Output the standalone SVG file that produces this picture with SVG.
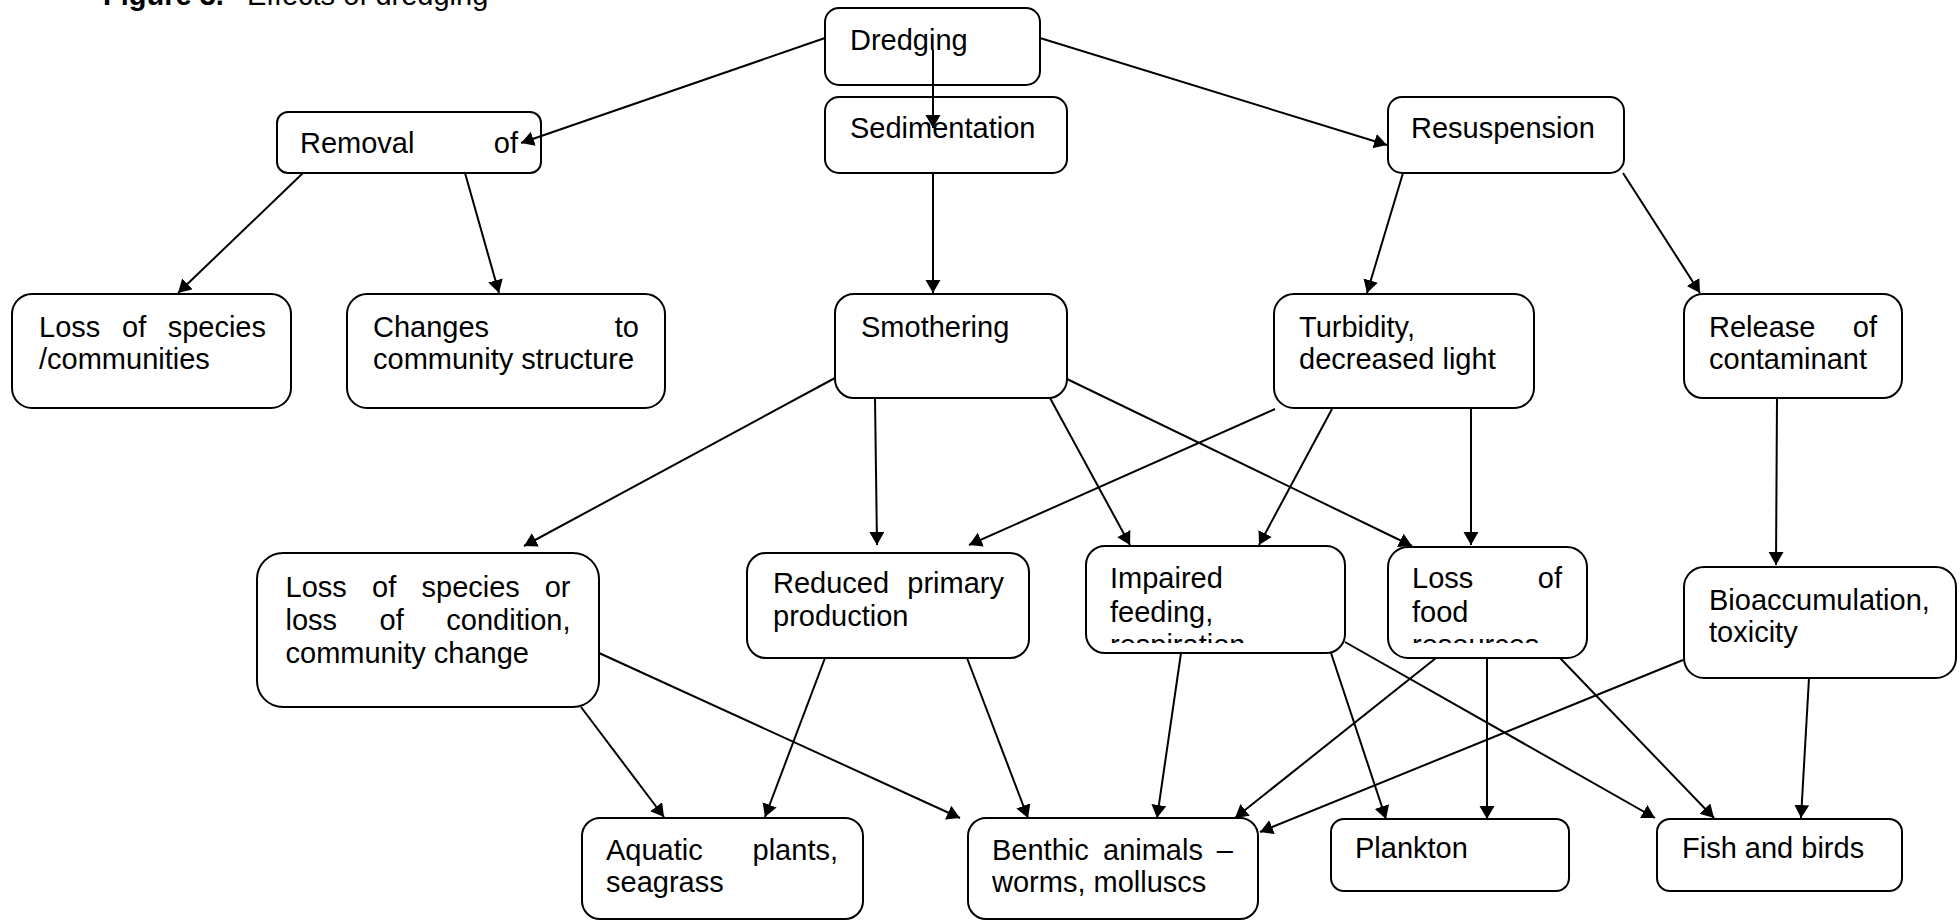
<svg xmlns="http://www.w3.org/2000/svg" width="1960" height="922" viewBox="0 0 1960 922">
<style>
.box{fill:#fff;stroke:#000;stroke-width:2}
.t{font-family:"Liberation Sans",Arial,sans-serif;font-size:29px;fill:#000}
.e{text-anchor:end}
.b{font-weight:bold}
.c line{stroke:#000;stroke-width:2;marker-end:url(#ah)}
</style>
<defs>
<marker id="ah" markerUnits="userSpaceOnUse" markerWidth="14" markerHeight="16" refX="13" refY="7.5" orient="auto">
<path d="M0,0 L13,7.5 L0,15 z" fill="#000"/>
</marker>
<clipPath id="clipImp"><rect x="1086" y="546" width="259" height="97"/></clipPath>
<clipPath id="clipFood"><rect x="1388" y="547" width="199" height="96"/></clipPath>
</defs>
<rect width="1960" height="922" fill="#fff"/>
<g id="title"><text class="t" x="103" y="5"><tspan class="b">Figure 3.</tspan><tspan x="247">Effects of dredging</tspan></text></g>

<g id="dredging"><rect class="box" x="825" y="8" width="215" height="77" rx="14"/><text class="t" x="850" y="50">Dredging</text></g>
<g id="removal"><rect class="box" x="277" y="112" width="264" height="61" rx="11"/><text class="t" x="300" y="153">Removal</text><text class="t e" x="518" y="153">of</text></g>
<g id="sedimentation"><rect class="box" x="825" y="97" width="242" height="76" rx="14"/><text class="t" x="850" y="138">Sedimentation</text></g>
<g id="resuspension"><rect class="box" x="1388" y="97" width="236" height="76" rx="14"/><text class="t" x="1411" y="138">Resuspension</text></g>

<g id="loss-species-communities"><rect class="box" x="12" y="294" width="279" height="114" rx="20"/><text class="t" x="39" y="337">Loss</text><text class="t" x="122" y="337">of</text><text class="t e" x="266" y="337">species</text><text class="t" x="39" y="369">/communities</text></g>
<g id="changes"><rect class="box" x="347" y="294" width="318" height="114" rx="20"/><text class="t" x="373" y="337">Changes</text><text class="t e" x="639" y="337">to</text><text class="t" x="373" y="369">community structure</text></g>
<g id="smothering"><rect class="box" x="835" y="294" width="232" height="104" rx="19"/><text class="t" x="861" y="337">Smothering</text></g>
<g id="turbidity"><rect class="box" x="1274" y="294" width="260" height="114" rx="20"/><text class="t" x="1299" y="337">Turbidity,</text><text class="t" x="1299" y="369">decreased light</text></g>
<g id="release"><rect class="box" x="1684" y="294" width="218" height="104" rx="19"/><text class="t" x="1709" y="337">Release</text><text class="t e" x="1877" y="337">of</text><text class="t" x="1709" y="369">contaminant</text></g>

<g id="loss-species-condition"><rect class="box" x="257" y="553" width="342" height="154" rx="26"/><text class="t" x="285.5" y="597">Loss</text><text class="t" x="372" y="597">of</text><text class="t" x="421.5" y="597">species</text><text class="t e" x="570.5" y="597">or</text><text class="t" x="285.5" y="630">loss</text><text class="t" x="379.5" y="630">of</text><text class="t e" x="570.5" y="630">condition,</text><text class="t" x="285.5" y="663">community change</text></g>
<g id="reduced"><rect class="box" x="747" y="553" width="282" height="105" rx="19"/><text class="t" x="773" y="593">Reduced</text><text class="t e" x="1004" y="593">primary</text><text class="t" x="773" y="626">production</text></g>
<g id="impaired"><rect class="box" x="1086" y="546" width="259" height="107" rx="19"/><text class="t" x="1110" y="588">Impaired</text><text class="t" x="1110" y="622">feeding,</text><text class="t" x="1110" y="655" clip-path="url(#clipImp)">respiration</text></g>
<g id="loss-food"><rect class="box" x="1388" y="547" width="199" height="111" rx="20"/><text class="t" x="1412" y="588">Loss</text><text class="t e" x="1562" y="588">of</text><text class="t" x="1412" y="622">food</text><text class="t" x="1412" y="655" clip-path="url(#clipFood)">resources</text></g>
<g id="bioaccumulation"><rect class="box" x="1684" y="567" width="272" height="111" rx="20"/><text class="t" x="1709" y="610">Bioaccumulation,</text><text class="t" x="1709" y="642">toxicity</text></g>

<g id="aquatic"><rect class="box" x="582" y="818" width="281" height="101" rx="18"/><text class="t" x="606" y="860">Aquatic</text><text class="t e" x="838" y="860">plants,</text><text class="t" x="606" y="892">seagrass</text></g>
<g id="benthic"><rect class="box" x="968" y="818" width="290" height="101" rx="18"/><text class="t" x="992" y="860">Benthic</text><text class="t" x="1103" y="860">animals</text><text class="t e" x="1233" y="860">–</text><text class="t" x="992" y="892">worms, molluscs</text></g>
<g id="plankton"><rect class="box" x="1331" y="819" width="238" height="72" rx="13"/><text class="t" x="1355" y="858">Plankton</text></g>
<g id="fish"><rect class="box" x="1657" y="819" width="245" height="72" rx="13"/><text class="t" x="1682" y="858">Fish and birds</text></g>

<g id="connectors" class="c">
<line x1="825" y1="38" x2="521" y2="143"/>
<line x1="933" y1="50" x2="933" y2="128"/>
<line x1="1040" y1="38" x2="1387" y2="145"/>
<line x1="303" y1="173" x2="178" y2="293"/>
<line x1="465" y1="173" x2="499" y2="293"/>
<line x1="933" y1="173" x2="933" y2="293"/>
<line x1="1403" y1="173" x2="1367" y2="293"/>
<line x1="1623" y1="173" x2="1700" y2="293"/>
<line x1="835" y1="378" x2="524" y2="546"/>
<line x1="875" y1="398" x2="877" y2="545"/>
<line x1="1050" y1="398" x2="1130" y2="545"/>
<line x1="1067" y1="379" x2="1412" y2="546"/>
<line x1="1275" y1="409" x2="969" y2="545"/>
<line x1="1332" y1="409" x2="1259" y2="545"/>
<line x1="1471" y1="409" x2="1471" y2="545"/>
<line x1="1777" y1="398" x2="1776" y2="565"/>
<line x1="581" y1="707" x2="664" y2="817"/>
<line x1="599" y1="653" x2="960" y2="818"/>
<line x1="825" y1="658" x2="765" y2="817"/>
<line x1="967" y1="658" x2="1028" y2="818"/>
<line x1="1181" y1="653" x2="1157" y2="818"/>
<line x1="1331" y1="653" x2="1386" y2="819"/>
<line x1="1345" y1="642" x2="1655" y2="818"/>
<line x1="1436" y1="658" x2="1235" y2="818"/>
<line x1="1487" y1="658" x2="1487" y2="819"/>
<line x1="1560" y1="658" x2="1714" y2="818"/>
<line x1="1683" y1="660" x2="1260" y2="832"/>
<line x1="1809" y1="678" x2="1801" y2="818"/>
</g>
</svg>
